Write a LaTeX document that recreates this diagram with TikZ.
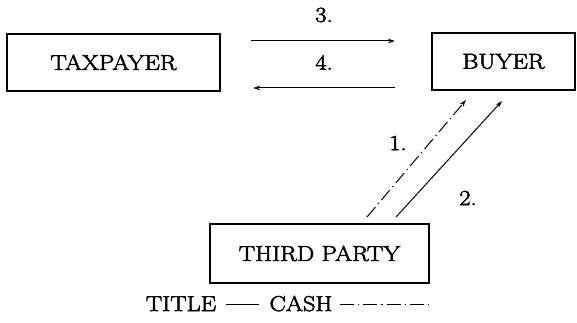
\documentclass[tikz,border=0pt]{standalone}
\usepackage{fontspec}
\setmainfont{Latin Modern Roman}[FakeStretch=1.14,FakeBold=2.5]
\usetikzlibrary{arrows.meta}
\newcommand\wideface{\fontsize{21.5}{24}\selectfont}
\begin{document}
\begin{tikzpicture}[x=1pt,y=-1pt,
  box/.style={draw,line width=1.2pt,inner sep=0pt,font=\wideface},
  lbl/.style={font=\wideface,inner sep=0pt},
  flow/.style={line width=1pt,-{Stealth[length=7pt,width=4.5pt]}},
  dashdot/.style={dash pattern=on 13pt off 4pt on 1.3pt off 4pt}]
\useasboundingbox (0,0) rectangle (577,323);

% parties
\node[box,minimum width=213pt,minimum height=57pt] (tax) at (113.5,62.5) {TAXPAYER};
\node[box,minimum width=143pt,minimum height=57pt] (buyer) at (503.5,61.5) {BUYER};
\node[box,minimum width=219pt,minimum height=59pt] (third) at (319.5,253.5) {THIRD PARTY};

% connector end points
\coordinate (t3) at (251,41);
\coordinate (b3) at (395,41);
\coordinate (b4) at (395,88);
\coordinate (t4) at (253,88);
\coordinate (p1) at (367,217);
\coordinate (q1) at (466,100);
\coordinate (p2) at (396,217);
\coordinate (q2) at (502,101);

% flows
\draw[flow] (t3) -- (b3);
\draw[flow] (b4) -- (t4);
\draw[flow,dashdot] (p1) -- (q1);
\draw[flow] (p2) -- (q2);

\node[lbl] (n3) at (324,15) {3.};
\node[lbl] (n4) at (324,62.5) {4.};
\node[lbl] (n1) at (398,143) {1.};
\node[lbl] (n2) at (468,198) {2.};

% legend
\node[lbl,anchor=base] (ltitle) at (181,311) {TITLE};
\node[lbl,anchor=base] (lcash) at (301,311) {CASH};
\coordinate (s1) at (226,304);
\coordinate (s2) at (259,304);
\coordinate (d1) at (340,304);
\coordinate (d2) at (430,304);
\draw[line width=1pt] (s1) -- (s2);
\draw[line width=1pt,dash pattern=on 14pt off 4pt on 1.3pt off 4pt] (d1) -- (d2);
\end{tikzpicture}
\end{document}
